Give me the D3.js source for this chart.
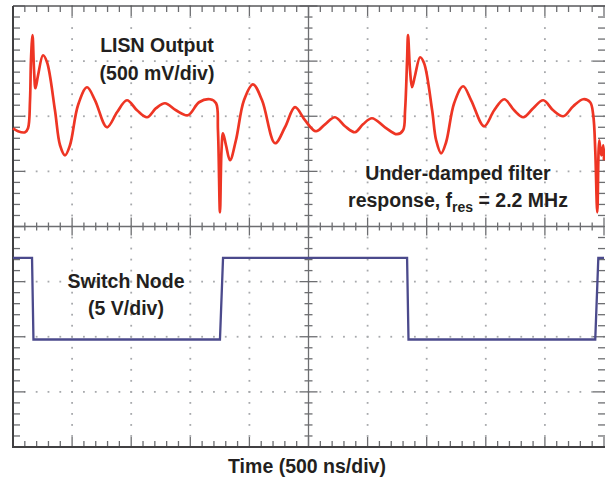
<!DOCTYPE html>
<html><head><meta charset="utf-8">
<script src="https://cdn.jsdelivr.net/npm/d3@7"></script>
<style>
body{margin:0;background:#fff}
svg{display:block}
text{font-family:"Liberation Sans",Arial,sans-serif;font-weight:bold;fill:#231f20}
</style>
</head><body><svg id="c" width="605" height="480"></svg>
<script>
// LISN output trace: time (ns) and level (mV, relative to the +2 div line)
const redTime = [0,42,102,127,144,152,165,178,190,212,254,288,355,398,440,482,550,626,694,795,880,964,1049,1134,1210,1286,1379,1480,1574,1667,1718,1734,1751,1764,1777,1802,1836,1886,1954,2030,2107,2217,2301,2386,2470,2563,2640,2724,2809,2893,2961,3037,3147,3249,3300,3317,3334,3342,3359,3376,3402,3444,3478,3546,3580,3622,3664,3732,3808,3876,3986,4071,4156,4240,4317,4401,4486,4570,4655,4740,4824,4883,4909,4926,4943,4960,4977,4994,5000];
const redMv = [-109,-136,-145,-109,145,508,735,417,254,372,553,490,54,-263,-354,-263,100,263,145,-100,36,145,54,-9,73,118,54,9,127,154,118,-127,-871,-309,-154,-263,-399,-218,145,290,145,-245,-100,82,-36,-136,-73,-9,-91,-145,-73,-18,-100,-163,-127,54,508,735,417,263,372,535,481,54,-218,-336,-236,118,272,145,-91,54,154,54,-9,73,145,54,0,91,154,127,9,-309,-871,-218,-354,-263,-399];
// Switch node trace: time (ns) and level (V)
const blueTime = [0,161,173,1751,1777,3334,3346,4926,4952,5000];
const blueV = [7.15,7.15,-0.25,-0.25,7.15,7.15,-0.25,-0.25,7.15,7.15];

const labelLisn = ["LISN Output","(500 mV/div)"];
const labelSw = ["Switch Node","(5 V/div)"];
const labelNote = "Under-damped filter";
const xTitle = "Time (500 ns/div)";

const svg = d3.select("#c");
const L=13, R=604, T=6, B=447;
const x = d3.scaleLinear().domain([0,5000]).range([L,R]);
const yDiv = d3.scaleLinear().domain([-4,4]).range([B,T]);
const yRed = d3.scaleLinear().domain([-3000,1000]).range([B,T]);
const yBlue = d3.scaleLinear().domain([-10,30]).range([B,T]);

const gridCol="#6d6e71";
const g = svg.append("g");
const tMinor = d3.range(0,5001,100);
const tMajor = d3.range(0,5001,500);
const dMinor = d3.range(-4,4.001,0.2).map(v=>+v.toFixed(1));
const dMajor = d3.range(-4,5,1);

// dotted grid
tMajor.filter(t=>t>0&&t<5000&&t!==2500).forEach(t=>{
  dMinor.forEach(d=>{ g.append("rect").attr("x",x(t)-0.9).attr("y",yDiv(d)-0.9).attr("width",1.8).attr("height",1.8).attr("fill","#a7a9ac"); });
});
dMajor.filter(d=>d>-4&&d<4&&d!==0).forEach(d=>{
  tMinor.forEach(t=>{ g.append("rect").attr("x",x(t)-0.9).attr("y",yDiv(d)-0.9).attr("width",1.8).attr("height",1.8).attr("fill","#a7a9ac"); });
});

// center axes
g.append("line").attr("x1",L).attr("x2",R).attr("y1",yDiv(0)).attr("y2",yDiv(0)).attr("stroke",gridCol).attr("stroke-width",1.3);
g.append("line").attr("x1",x(2500)).attr("x2",x(2500)).attr("y1",T).attr("y2",B).attr("stroke",gridCol).attr("stroke-width",1.3);
tMinor.forEach(t=>{
  const maj = t%500===0, h = maj?9:4;
  g.append("line").attr("x1",x(t)).attr("x2",x(t)).attr("y1",yDiv(0)-h).attr("y2",yDiv(0)+h).attr("stroke",gridCol).attr("stroke-width",1.3);
  const e = maj?10:6;
  g.append("line").attr("x1",x(t)).attr("x2",x(t)).attr("y1",T).attr("y2",T+e).attr("stroke",gridCol).attr("stroke-width",1.3);
  g.append("line").attr("x1",x(t)).attr("x2",x(t)).attr("y1",B).attr("y2",B-e).attr("stroke",gridCol).attr("stroke-width",1.3);
});
dMinor.forEach(d=>{
  const maj = Math.abs(d-Math.round(d))<1e-6, h = maj?9:4;
  g.append("line").attr("x1",x(2500)-h).attr("x2",x(2500)+h).attr("y1",yDiv(d)).attr("y2",yDiv(d)).attr("stroke",gridCol).attr("stroke-width",1.3);
  const e = maj?12:7;
  g.append("line").attr("x1",L).attr("x2",L+e).attr("y1",yDiv(d)).attr("y2",yDiv(d)).attr("stroke",gridCol).attr("stroke-width",1.3);
  g.append("line").attr("x1",R+1).attr("x2",R+1-e).attr("y1",yDiv(d)).attr("y2",yDiv(d)).attr("stroke",gridCol).attr("stroke-width",1.3);
});
// border
g.append("line").attr("x1",L).attr("x2",R+1).attr("y1",T).attr("y2",T).attr("stroke","#58595b").attr("stroke-width",1.6);
g.append("line").attr("x1",L).attr("x2",R+1).attr("y1",B).attr("y2",B).attr("stroke","#414042").attr("stroke-width",2);
g.append("line").attr("x1",L).attr("x2",L).attr("y1",T).attr("y2",B+1).attr("stroke","#414042").attr("stroke-width",2);

// traces
const redLine = d3.line().x((d,i)=>x(redTime[i])).y((d,i)=>yRed(redMv[i])).curve(d3.curveCatmullRom.alpha(0.5));
svg.append("path").attr("d",redLine(redTime)).attr("fill","none").attr("stroke","#ee3524").attr("stroke-width",2.7).attr("stroke-linejoin","round");
const blueLine = d3.line().x((d,i)=>x(blueTime[i])).y((d,i)=>yBlue(blueV[i]));
svg.append("path").attr("d",blueLine(blueTime)).attr("fill","none").attr("stroke","#4b4a8c").attr("stroke-width",2.3);

// labels
const fs = 19.5;
svg.append("text").attr("x",157).attr("y",52).attr("text-anchor","middle").attr("font-size",fs).text(labelLisn[0]);
svg.append("text").attr("x",157).attr("y",80).attr("text-anchor","middle").attr("font-size",fs).text(labelLisn[1]);
svg.append("text").attr("x",126).attr("y",288).attr("text-anchor","middle").attr("font-size",fs).text(labelSw[0]);
svg.append("text").attr("x",126).attr("y",315).attr("text-anchor","middle").attr("font-size",fs).text(labelSw[1]);
svg.append("text").attr("x",458).attr("y",180).attr("text-anchor","middle").attr("font-size",fs).text(labelNote);
const t2 = svg.append("text").attr("x",458).attr("y",207).attr("text-anchor","middle").attr("font-size",fs);
t2.append("tspan").text("response, f");
t2.append("tspan").attr("font-size",14).attr("dy",5).text("res");
t2.append("tspan").attr("dy",-5).text(" = 2.2 MHz");
svg.append("text").attr("x",307).attr("y",473).attr("text-anchor","middle").attr("font-size",fs).text(xTitle);
</script></body></html>
